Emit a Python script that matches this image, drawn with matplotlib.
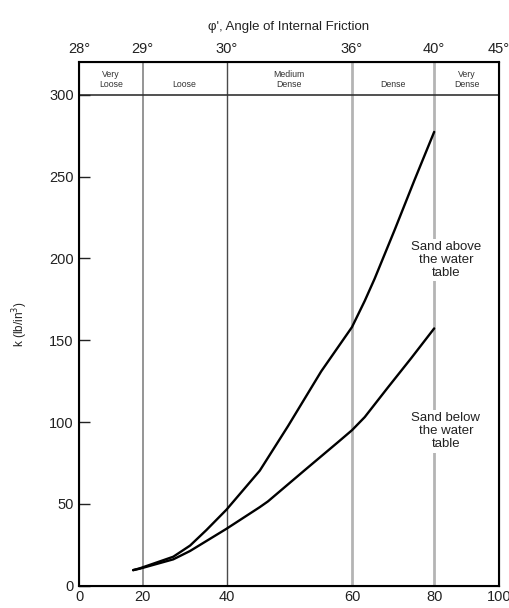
import numpy as np
import matplotlib
matplotlib.use('Agg')
import matplotlib.pyplot as plt

plt.rcParams['font.family'] = ['Liberation Sans', 'DejaVu Sans']

# relative density ticks (bottom) and friction angle labels (top)
dr_ticks = [0, 20, 40, 60, 80, 100]
phi_labels = ['28°', '29°', '30°', '36°', '40°', '45°']
# the original chart has unevenly spaced gridlines
tick_pos = [0, 15.1, 35.1, 65.0, 84.6, 100]

classes = ['Very\nLoose', '\nLoose', 'Medium\nDense', '\nDense', 'Very\nDense']

# curves
above_dr = [17, 19.1, 27.3, 31.3, 35.2, 40, 45.3, 49.8, 55.1, 60, 63.1, 65.5, 70.4, 75.2, 80]
above_k = [9.5, 10.6, 17.7, 24.5, 34, 46.5, 70.3, 97.5, 131, 158, 174, 187.5, 217.5, 247.8, 277.3]
below_dr = [17, 19.1, 27.3, 31.3, 35.2, 40, 45.3, 46.6, 52.5, 57.8, 60, 63.1, 68.7, 74.4, 80]
below_k = [9.5, 10.4, 16.1, 21.2, 27.3, 34.8, 48, 51.5, 70.7, 87.8, 95, 103, 121, 139, 157.2]


def fwd(x):
    return np.interp(x, dr_ticks, tick_pos)


def inv(x):
    return np.interp(x, tick_pos, dr_ticks)


fig = plt.figure(figsize=(5.10, 6.08), dpi=100)
ax = fig.add_axes([0.1555, 0.0367, 0.8225, 0.8613])
ax.set_xscale('function', functions=(fwd, inv))
ax.set_xlim(0, 100)
ax.set_ylim(0, 320)

# gridlines
vcol = {20: ('#8c8c8c', 1.3), 40: ('#4a4a4a', 1.0), 60: ('#b4b4b4', 2.0), 80: ('#b4b4b4', 2.0)}
for d, (c, lw) in vcol.items():
    ax.axvline(d, color=c, lw=lw, zorder=1)
ax.axhline(300, color='#333333', lw=1.2, zorder=1)

for xs, ys in [(above_dr, above_k), (below_dr, below_k)]:
    ax.plot(xs, ys, color='black', lw=1.7, zorder=3,
            solid_capstyle='round', solid_joinstyle='round')

# density classes in the header band
for i, lab in enumerate(classes):
    xm = inv((tick_pos[i] + tick_pos[i + 1]) / 2)
    ax.text(xm, 309.5, lab, ha='center', va='center', fontsize=6.3,
            color='#333333', linespacing=1.15)

box = dict(facecolor='white', edgecolor='none', pad=1.5)
ax.text(83.6, 199, 'Sand above\nthe water\ntable', ha='center', va='center',
        fontsize=9.5, color='#222222', linespacing=1.15, bbox=box, zorder=4)
ax.text(83.6, 94.5, 'Sand below\nthe water\ntable', ha='center', va='center',
        fontsize=9.5, color='#222222', linespacing=1.15, bbox=box, zorder=4)

ax.set_xticks(dr_ticks)
ax.set_xticklabels([str(d) for d in dr_ticks])
ax.set_yticks(range(0, 301, 50))
ax.tick_params(axis='x', length=0, pad=3, labelsize=10.5, colors='#222222')
ax.tick_params(axis='y', direction='in', length=8, width=1, pad=4,
               labelsize=10.5, colors='#222222')
for s in ax.spines.values():
    s.set_linewidth(1.5)
ax.set_ylabel('k (lb/in$^3$)', fontsize=8.5, color='#222222', labelpad=14)

top = ax.twiny()
top.set_xscale('function', functions=(fwd, inv))
top.set_xlim(0, 100)
top.set_xticks(dr_ticks)
top.set_xticklabels(phi_labels)
top.tick_params(axis='x', length=0, pad=4, labelsize=10.5, colors='#222222')
top.set_xlabel("φ', Angle of Internal Friction", fontsize=9.5, color='#222222', labelpad=9)

fig.savefig('out.png', dpi=100)
